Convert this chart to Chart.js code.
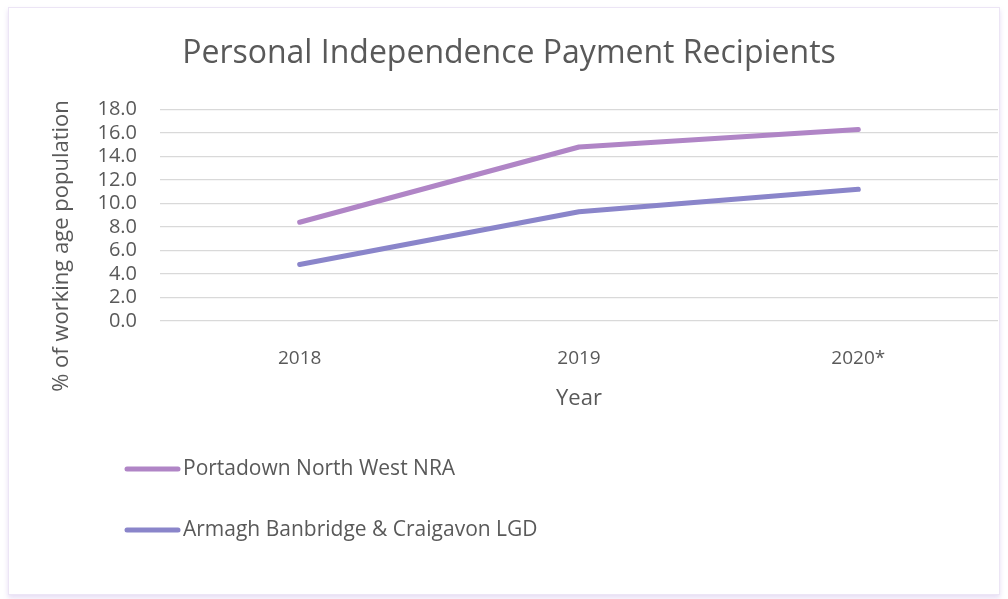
<!DOCTYPE html>
<html>
<head>
<meta charset="utf-8">
<script src="https://cdn.jsdelivr.net/npm/chart.js@4.4.1/dist/chart.umd.min.js"></script>
<style>
  html, body { margin: 0; padding: 0; background: #fff; }
  #wrap { position: relative; width: 1008px; height: 599px; overflow: hidden; }
  #frame { position: absolute; left: 8px; top: 7px; width: 990px; height: 586px;
    border: 1px solid #ece5f5; box-shadow: 0 3px 5px rgba(200, 180, 230, 0.45); background: #fff; }
  #c { position: absolute; left: 0; top: 0; }
</style>
</head>
<body>
<div id="wrap">
  <div id="frame"></div>
  <canvas id="c" width="1008" height="599"></canvas>
</div>
<script>
(function () {
  "use strict";
  var YEARS = ["2018", "2019", "2020*"];
  var SERIES_NAMES = ["Portadown North West NRA", "Armagh Banbridge & Craigavon LGD"];
  var PORTADOWN = [8.4, 14.8, 16.3];
  var ABC_LGD = [4.8, 9.3, 11.2];
  var Y_TICKS = [0, 2, 4, 6, 8, 10, 12, 14, 16, 18];
  var COLORS = ["#b085c6", "#8a85ca"];
  var TEXT = "#595959";
  var FONT = "'Open Sans', sans-serif";

  // y axis title + vertical legend, drawn on the canvas after the chart
  var extras = {
    id: "extras",
    afterDraw: function (chart) {
      var ctx = chart.ctx;
      ctx.save();
      ctx.fillStyle = TEXT;
      ctx.font = "22px " + FONT;
      ctx.textAlign = "center";
      ctx.textBaseline = "middle";
      ctx.translate(62, 246);
      ctx.rotate(-Math.PI / 2);
      ctx.fillText("% of working age population", 0, 0);
      ctx.restore();

      chart.data.datasets.forEach(function (ds, i) {
        var y = 469 + i * 61;
        ctx.save();
        ctx.strokeStyle = ds.borderColor;
        ctx.lineWidth = 5;
        ctx.lineCap = "round";
        ctx.beginPath();
        ctx.moveTo(127, y);
        ctx.lineTo(178, y);
        ctx.stroke();
        ctx.fillStyle = TEXT;
        ctx.font = "21px " + FONT;
        ctx.textAlign = "left";
        ctx.textBaseline = "middle";
        ctx.fillText(ds.label, 183, y);
        ctx.restore();
      });
    }
  };

  new Chart(document.getElementById("c"), {
    type: "line",
    data: {
      labels: YEARS,
      datasets: [
        { label: SERIES_NAMES[0], data: PORTADOWN, borderColor: COLORS[0], backgroundColor: COLORS[0] },
        { label: SERIES_NAMES[1], data: ABC_LGD, borderColor: COLORS[1], backgroundColor: COLORS[1] }
      ]
    },
    plugins: [extras],
    options: {
      responsive: false,
      devicePixelRatio: 1,
      animation: false,
      elements: {
        line: { borderWidth: 5, tension: 0, borderCapStyle: "round", borderJoinStyle: "round" },
        point: { radius: 0, hoverRadius: 0 }
      },
      layout: { padding: { top: 0, right: 10, bottom: 187, left: 20 } },
      plugins: {
        legend: { display: false },
        tooltip: { enabled: false },
        title: {
          display: true,
          text: "Personal Independence Payment Recipients",
          color: TEXT,
          font: { family: FONT, size: 32, weight: "normal", lineHeight: 1.2 },
          padding: { top: 35, bottom: 36 }
        }
      },
      scales: {
        x: {
          offset: true,
          grid: { display: false },
          border: { display: false },
          ticks: { color: TEXT, font: { family: FONT, size: 19 }, padding: 18 },
          title: { display: true, text: "Year", color: TEXT, font: { family: FONT, size: 22 }, padding: { top: 4, bottom: 0 } },
          afterFit: function (s) { s.height = 91; }
        },
        y: {
          min: 0,
          max: 18,
          afterBuildTicks: function (s) { s.ticks = Y_TICKS.map(function (v) { return { value: v }; }); },
          grid: { color: "#d9d9d9", lineWidth: 1.3, drawTicks: false },
          border: { display: false },
          ticks: {
            color: TEXT, font: { family: FONT, size: 20 }, padding: 23, autoSkip: false,
            callback: function (v) { return Number(v).toFixed(1); }
          },
          afterFit: function (s) { s.width = 140; }
        }
      }
    }
  });
})();
</script>
</body>
</html>
